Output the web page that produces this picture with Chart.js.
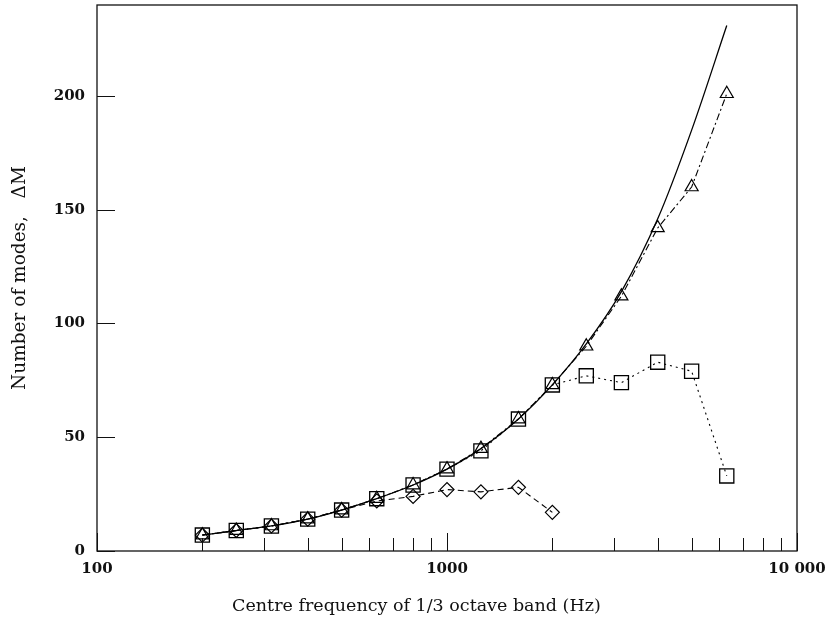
<!DOCTYPE html>
<html>
<head>
<meta charset="utf-8">
<script src="https://cdn.jsdelivr.net/npm/chart.js@4/dist/chart.umd.min.js"></script>
<style>
  html, body { margin: 0; padding: 0; background: #fff; }
  #wrap { width: 827px; height: 623px; }
</style>
</head>
<body>
<div id="wrap"><canvas id="grafico"></canvas></div>
<script>
// 1/3 octave band centre frequencies (Hz)
const frequencias = [200, 250, 315, 400, 500, 630, 800, 1000, 1250, 1600, 2000, 2500, 3150, 4000, 5000, 6300];

// values
const teoria     = [7, 9, 11, 14, 18, 23, 29, 36, 45, 58, 73, 91, 114, 146, 185, 231];
const triangulos = [7, 9, 11, 14, 18, 23, 29, 36, 45, 58, 73, 90, 112, 142, 160, 201];
const quadrados  = [7, 9, 11, 14, 18, 23, 29, 36, 44, 58, 73, 77, 74, 83, 79, 33];
const losangos   = [7, 9, 11, 14, 18, 22, 24, 27, 26, 28, 17];

const xTicks = [100, 1000, 10000];
const xMinorTicks = [200, 300, 400, 500, 600, 700, 800, 900, 2000, 3000, 4000, 5000, 6000, 7000, 8000, 9000];
const yTicks = [0, 50, 100, 150, 200];

const pontos = (ys) => ys.map((y, i) => ({ x: frequencias[i], y: y }));

const fonteTicks = { family: 'DejaVu Serif', size: 15, weight: 'bold' };
const fonteTitulo = { family: 'DejaVu Serif', size: 17.5 };

// box around plot + ticks drawn inward
const moldura = {
    id: 'moldura',
    afterDraw(chart) {
        const { ctx, chartArea: a, scales: { x, y } } = chart;
        ctx.save();
        ctx.strokeStyle = '#111';
        ctx.lineWidth = 1.3;
        ctx.strokeRect(a.left, a.top, a.right - a.left, a.bottom - a.top);
        ctx.beginPath();
        xMinorTicks.forEach(v => {
            const px = Math.round(x.getPixelForValue(v)) + 0.5;
            ctx.moveTo(px, a.bottom);
            ctx.lineTo(px, a.bottom - 13);
        });
        xTicks.forEach(v => {
            const px = Math.round(x.getPixelForValue(v)) + 0.5;
            ctx.moveTo(px, a.bottom);
            ctx.lineTo(px, a.bottom - 18);
        });
        yTicks.forEach(v => {
            const py = Math.round(y.getPixelForValue(v)) + 0.5;
            ctx.moveTo(a.left, py);
            ctx.lineTo(a.left + 18, py);
        });
        ctx.lineWidth = 1;
        ctx.stroke();
        ctx.restore();
    }
};

const data = {
    datasets: [{
        label: 'Theory',
        data: pontos(teoria),
        borderColor: '#000',
        borderWidth: 1.3,
        pointRadius: 0,
        cubicInterpolationMode: 'monotone'
    }, {
        label: 'Triangles',
        data: pontos(triangulos),
        borderColor: '#000',
        borderWidth: 1.1,
        borderDash: [7, 3, 2, 3],
        pointStyle: 'triangle',
        pointRadius: 7.5,
        pointBorderWidth: 1.2,
        pointBackgroundColor: 'rgba(0,0,0,0)',
        pointBorderColor: '#000'
    }, {
        label: 'Squares',
        data: pontos(quadrados),
        borderColor: '#000',
        borderWidth: 1.1,
        borderDash: [2, 4],
        pointStyle: 'rect',
        pointRadius: 10,
        pointBorderWidth: 1.3,
        pointBackgroundColor: 'rgba(0,0,0,0)',
        pointBorderColor: '#000'
    }, {
        label: 'Diamonds',
        data: pontos(losangos),
        borderColor: '#000',
        borderWidth: 1.1,
        borderDash: [6, 4],
        pointStyle: 'rectRot',
        pointRadius: 7,
        pointBorderWidth: 1.2,
        pointBackgroundColor: 'rgba(0,0,0,0)',
        pointBorderColor: '#000'
    }]
};

const config = {
    type: 'line',
    data: data,
    options: {
        responsive: true,
        maintainAspectRatio: false,
        animation: false,
        layout: { autoPadding: false, padding: { left: 0, top: 5, right: 30, bottom: 0 } },
        scales: {
            x: {
                type: 'logarithmic',
                min: 100,
                max: 10000,
                afterBuildTicks: (s) => { s.ticks = xTicks.map(v => ({ value: v })); },
                afterFit: (s) => { s.height = 72; s.paddingLeft = 0; s.paddingRight = 0; },
                grid: { display: false, drawTicks: false },
                border: { display: false },
                ticks: {
                    color: '#111',
                    font: fonteTicks,
                    padding: 9,
                    maxRotation: 0,
                    callback: (v) => v === 10000 ? '10 000' : String(v)
                },
                title: {
                    display: true,
                    // trailing spaces push the centred title left, as in the source figure
                    text: 'Centre frequency of 1/3 octave band (Hz)           ',
                    color: '#111',
                    font: fonteTitulo,
                    padding: { top: 0, bottom: 6 }
                }
            },
            y: {
                min: 0,
                max: 240,
                afterBuildTicks: (s) => { s.ticks = yTicks.map(v => ({ value: v })); },
                afterFit: (s) => { s.width = 97; s.paddingTop = 0; s.paddingBottom = 0; },
                grid: { display: false, drawTicks: false },
                border: { display: false },
                ticks: {
                    color: '#111',
                    font: fonteTicks,
                    padding: 12
                },
                title: {
                    display: true,
                    text: 'Number of modes,   ΔM',
                    color: '#111',
                    font: { family: 'DejaVu Serif', size: 18.5 },
                    padding: { top: 9, bottom: 0 }
                }
            }
        },
        plugins: {
            legend: { display: false },
            tooltip: { enabled: false }
        }
    },
    plugins: [moldura]
};

new Chart(document.getElementById('grafico'), config);
</script>
</body>
</html>
